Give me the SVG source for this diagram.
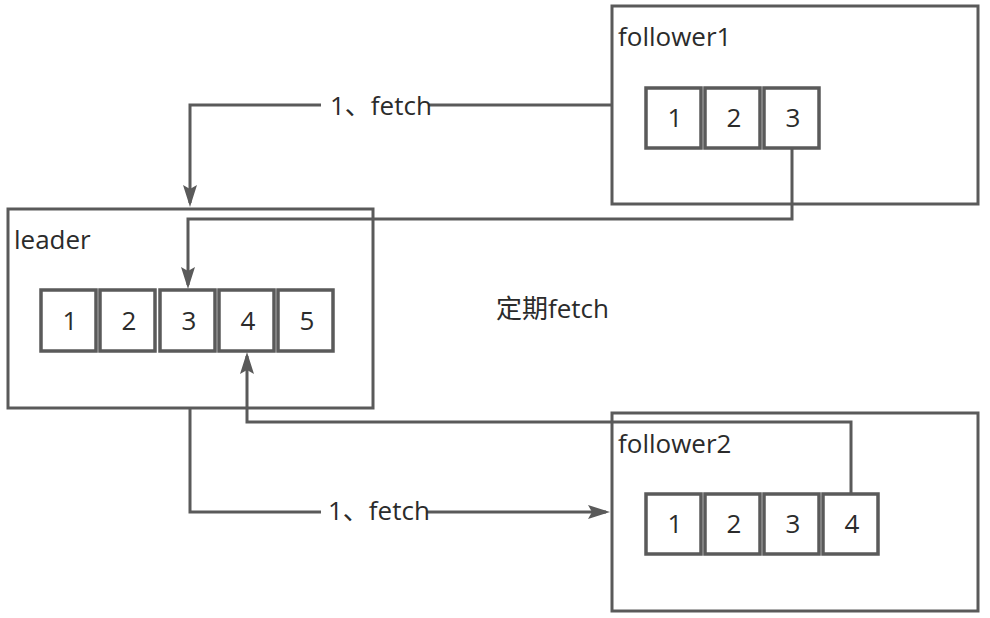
<svg xmlns="http://www.w3.org/2000/svg" width="990" height="618" viewBox="0 0 990 618">
  <defs>
    <style>
      .box { fill: #ffffff; stroke: #5a5a5a; stroke-width: 3; }
      .cell { fill: #ffffff; stroke: #5a5a5a; stroke-width: 3.5; }
      .lbl { font-family: "Open Sans", "Noto Sans CJK SC", sans-serif; font-size: 26px; fill: #2b2b2b; }
      .num { font-family: "Open Sans", "Noto Sans CJK SC", sans-serif; font-size: 26px; fill: #2b2b2b; text-anchor: middle; }
      .conn { fill: none; stroke: #5a5a5a; stroke-width: 3; }
      .bg { fill: #ffffff; }
    </style>
    <marker id="arr" viewBox="0 0 22 14" refX="18" refY="7" markerWidth="22" markerHeight="14" markerUnits="userSpaceOnUse" orient="auto">
      <path d="M0,0 L22,7 L0,14 L4,7 z" fill="#5a5a5a"/>
    </marker>
  </defs>
  <rect width="990" height="618" fill="#ffffff"/>

  <g id="follower1">
    <rect class="box" x="612" y="6" width="366" height="198"/>
    <text class="lbl" x="618" y="46">follower1</text>
    <rect class="cell" x="646" y="88" width="55" height="60"/>
    <text class="num" x="675" y="127">1</text>
    <rect class="cell" x="705" y="88" width="55" height="60"/>
    <text class="num" x="734" y="127">2</text>
    <rect class="cell" x="764" y="88" width="55" height="60"/>
    <text class="num" x="793" y="127">3</text>
  </g>

  <g id="leader">
    <rect class="box" x="8" y="209" width="365" height="199"/>
    <text class="lbl" x="14" y="249">leader</text>
    <rect class="cell" x="41" y="290" width="55" height="61"/>
    <text class="num" x="70" y="330">1</text>
    <rect class="cell" x="100" y="290" width="55" height="61"/>
    <text class="num" x="129" y="330">2</text>
    <rect class="cell" x="160" y="290" width="55" height="61"/>
    <text class="num" x="189" y="330">3</text>
    <rect class="cell" x="219" y="290" width="55" height="61"/>
    <text class="num" x="248" y="330">4</text>
    <rect class="cell" x="278" y="290" width="55" height="61"/>
    <text class="num" x="307" y="330">5</text>
  </g>

  <g id="follower2">
    <rect class="box" x="612" y="413" width="366" height="198"/>
    <text class="lbl" x="618" y="453">follower2</text>
    <rect class="cell" x="646" y="494" width="55" height="60"/>
    <text class="num" x="675" y="533">1</text>
    <rect class="cell" x="705" y="494" width="55" height="60"/>
    <text class="num" x="734" y="533">2</text>
    <rect class="cell" x="764" y="494" width="55" height="60"/>
    <text class="num" x="793" y="533">3</text>
    <rect class="cell" x="823" y="494" width="55" height="60"/>
    <text class="num" x="852" y="533">4</text>
  </g>

  <g id="note">
    <text class="lbl" x="496" y="318">定期fetch</text>
  </g>

  <g id="connectors">
    <path class="conn" d="M612,105 H190 V203" marker-end="url(#arr)"/>
    <path class="conn" d="M792,148 V219 H188 V285" marker-end="url(#arr)"/>
    <path class="conn" d="M851,494 V422 H247 V356" marker-end="url(#arr)"/>
    <path class="conn" d="M190,408 V512 H606" marker-end="url(#arr)"/>
    <rect class="bg" x="321" y="92" width="108" height="28"/>
    <text class="lbl" x="330" y="115">1、fetch</text>
    <rect class="bg" x="321" y="499" width="106" height="28"/>
    <text class="lbl" x="328" y="520">1、fetch</text>
  </g>
</svg>
